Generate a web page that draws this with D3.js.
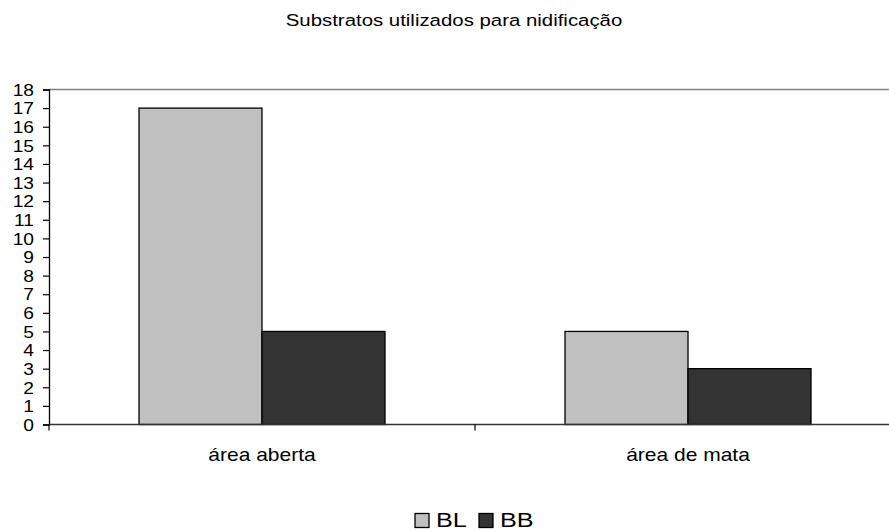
<!DOCTYPE html>
<html><head><meta charset="utf-8">
<script src="https://cdn.jsdelivr.net/npm/d3@7"></script>
<style>body{margin:0;background:#fff}svg{display:block}text{font-family:"Liberation Sans",Arial,sans-serif;fill:#000}</style>
</head><body>
<svg id="c" width="889" height="531"></svg>
<script>
const title = "Substratos utilizados para nidificação";
const categories = ["área aberta", "área de mata"];
const seriesNames = ["BL", "BB"];
const BL = [17, 5];
const BB = [5, 3];
const yTicks = d3.range(0, 19);
const colors = {BL: "#c0c0c0", BB: "#333333"};

(function () {
const svg = d3.select("#c");
const SX = 1.2; // horizontal text stretch
const pLeft = 49, pRight = 901, pTop = 89.5, pBottom = 424.5;

const x0 = d3.scaleBand().domain(categories).range([pLeft, pRight]);
const x1 = d3.scaleBand().domain(seriesNames).range([90, x0.bandwidth() - 90]);
const y = d3.scaleLinear().domain([0, 18]).range([pBottom, pTop]);

const data = categories.map((c, i) => ({cat: c, vals: [{k: "BL", v: BL[i]}, {k: "BB", v: BB[i]}]}));

function stretchedText(g, x, yy, str, size, anchor) {
  return g.append("g").attr("transform", `translate(${x},${yy}) scale(${SX},1)`)
    .append("text").attr("text-anchor", anchor || "middle").attr("font-size", size).text(str);
}

// title
stretchedText(svg, 454, 26, title, 17, "middle");

// top gridline
svg.append("line").attr("x1", pLeft).attr("x2", pRight).attr("y1", y(18)).attr("y2", y(18))
  .attr("stroke", "#808080").attr("stroke-width", 1.6);

// bars
const grp = svg.selectAll("g.cat").data(data).join("g").attr("class", "cat")
  .attr("transform", d => `translate(${x0(d.cat)},0)`);
grp.selectAll("rect").data(d => d.vals).join("rect")
  .attr("x", d => x1(d.k)).attr("width", x1.bandwidth())
  .attr("y", d => y(d.v)).attr("height", d => y(0) - y(d.v))
  .attr("fill", d => colors[d.k]).attr("stroke", "#000").attr("stroke-width", 1.3);

// y axis
const ya = svg.append("g").attr("transform", `translate(${pLeft},0)`)
  .call(d3.axisLeft(y).tickValues(yTicks).tickSize(6).tickPadding(0).tickFormat(d3.format("d")));
ya.select(".domain").attr("stroke", "#000").attr("stroke-width", 1.3);
ya.selectAll(".tick line").attr("stroke", "#000").attr("stroke-width", 1.2);
ya.selectAll(".tick text").attr("font-size", 16).attr("font-family", '"Liberation Sans",Arial,sans-serif')
  .attr("x", -15 / SX).attr("dy", "0.36em").attr("transform", `scale(${SX},1)`);

// x axis
const xa = svg.append("g").attr("transform", `translate(0,${pBottom})`);
xa.append("line").attr("x1", pLeft).attr("x2", pRight).attr("stroke", "#333").attr("stroke-width", 1.5);
const bounds = [pLeft, x0(categories[1]), pRight];
xa.selectAll("line.tk").data(bounds).join("line").attr("class", "tk")
  .attr("x1", d => d).attr("x2", d => d).attr("y1", 0).attr("y2", 6).attr("stroke", "#000").attr("stroke-width", 1.2);
categories.forEach(c => stretchedText(svg, x0(c) + x0.bandwidth() / 2, 461, c, 17.5, "middle"));

// legend
const lg = svg.append("g");
const legendX = [415, 479];
seriesNames.forEach((s, i) => {
  lg.append("rect").attr("x", legendX[i]).attr("y", 513.5).attr("width", 14).attr("height", 14)
    .attr("fill", colors[s]).attr("stroke", "#000").attr("stroke-width", 1.3);
  stretchedText(lg, legendX[i] + 21, 527, s, 21, "start");
});
})();
</script>
</body></html>
